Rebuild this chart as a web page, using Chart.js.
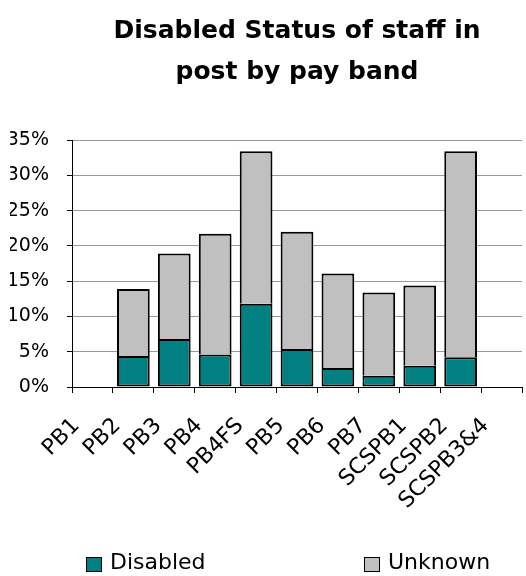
<!DOCTYPE html>
<html>
<head>
<meta charset="utf-8">
<script src="https://cdn.jsdelivr.net/npm/chart.js@4"></script>
<style>
  html, body { margin: 0; padding: 0; background: #fff; }
</style>
</head>
<body>
<canvas id="grafico" width="526" height="576"></canvas>
<script>
// Pay bands and the share of staff in each (percent)
const bandas = ['PB1', 'PB2', 'PB3', 'PB4', 'PB4FS', 'PB5', 'PB6', 'PB7', 'SCSPB1', 'SCSPB2', 'SCSPB3&4'];
const deficientes = [null, 4.4, 6.8, 4.6, 11.8, 5.4, 2.7, 1.6, 3.0, 4.2, null];
const desconhecido = [null, 9.5, 12.1, 17.1, 21.6, 16.6, 13.4, 11.8, 11.4, 29.2, null];
const marcasY = [0, 5, 10, 15, 20, 25, 30, 35];

Chart.defaults.font.family = "'DejaVu Sans', sans-serif";
Chart.defaults.color = '#000';

// Legend spread wide under the plot (the built-in one packs items together)
const legendaLarga = {
    id: 'legendaLarga',
    afterDraw(chart) {
        const { ctx, chartArea } = chart;
        const inicio = [14, 292];
        const y = chart.height - 11;
        ctx.save();
        ctx.font = "22px 'DejaVu Sans', sans-serif";
        ctx.textBaseline = 'middle';
        ctx.textAlign = 'left';
        chart.data.datasets.forEach((ds, i) => {
            const x = chartArea.left + inicio[i];
            ctx.fillStyle = ds.backgroundColor;
            ctx.fillRect(x, y - 8, 16, 15);
            ctx.strokeStyle = '#000';
            ctx.lineWidth = 1;
            ctx.strokeRect(x + 0.5, y - 7.5, 15, 14);
            ctx.fillStyle = '#000';
            ctx.fillText(ds.label, x + 24, y - 2);
        });
        ctx.restore();
    }
};

const ctx = document.getElementById('grafico').getContext('2d');
const grafico = new Chart(ctx, {
    type: 'bar',
    data: {
        labels: bandas,
        datasets: [
            {
                label: 'Disabled',
                data: deficientes,
                backgroundColor: '#008080',
                borderColor: '#000',
                borderWidth: 2,
                borderSkipped: false
            },
            {
                label: 'Unknown',
                data: desconhecido,
                backgroundColor: '#C0C0C0',
                borderColor: '#000',
                borderWidth: 2,
                borderSkipped: 'start' // seam comes from the segment below
            }
        ]
    },
    plugins: [legendaLarga],
    options: {
        responsive: false,
        animation: false,
        barPercentage: 0.8,
        categoryPercentage: 1,
        layout: { padding: { left: 10, right: 4, top: 8, bottom: 50 } },
        plugins: {
            title: {
                display: true,
                text: ['Disabled Status of staff in', 'post by pay band'],
                fullSize: false,
                font: { size: 25, weight: 'bold', lineHeight: 1.64 },
                padding: { top: 3, bottom: 47 }
            },
            legend: { display: false },
            tooltip: { enabled: false }
        },
        scales: {
            x: {
                stacked: true,
                afterFit: (escala) => {
                    escala.height = 139;
                    escala.paddingLeft = 0;
                    escala.paddingRight = 0;
                },
                grid: {
                    drawOnChartArea: false,
                    drawTicks: true,
                    tickLength: 6,
                    tickColor: '#000'
                },
                border: { display: true, color: '#000' },
                ticks: {
                    minRotation: 45,
                    maxRotation: 45,
                    autoSkip: false,
                    labelOffset: -16,
                    padding: 20,
                    font: { size: 22 }
                }
            },
            y: {
                stacked: true,
                min: 0,
                max: 35,
                afterBuildTicks: (escala) => {
                    escala.ticks = marcasY.map(v => ({ value: v }));
                },
                afterFit: (escala) => {
                    escala.width = 62;
                },
                grid: {
                    color: '#999',
                    tickColor: '#000',
                    tickLength: 5
                },
                border: { display: true, color: '#000' },
                ticks: {
                    autoSkip: false,
                    padding: 18,
                    font: { size: 19 },
                    callback: (v) => v + '%'
                }
            }
        }
    }
});
</script>
</body>
</html>
